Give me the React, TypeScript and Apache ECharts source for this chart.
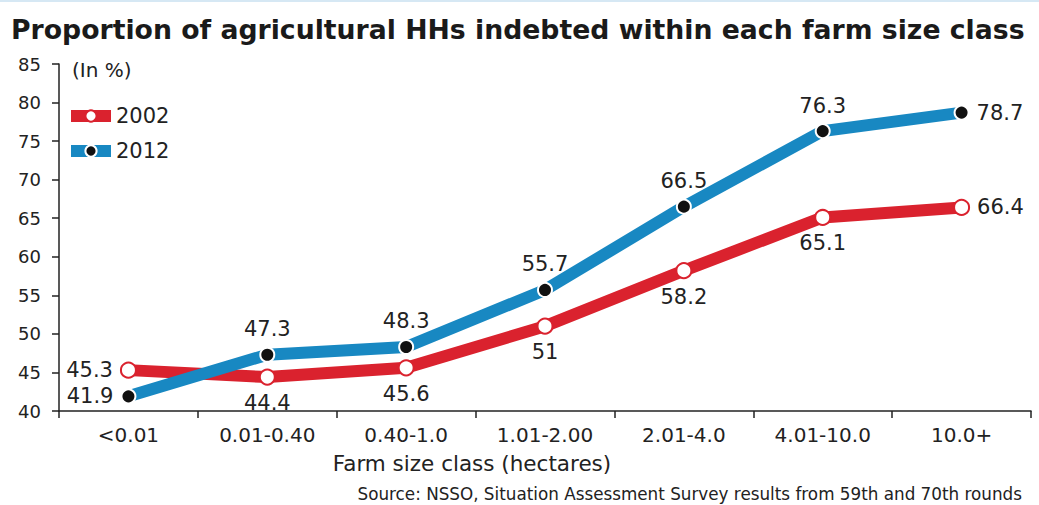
import React, { useEffect, useRef } from "react";
import * as echarts from "echarts";

const categories = ["<0.01", "0.01-0.40", "0.40-1.0", "1.01-2.00", "2.01-4.0", "4.01-10.0", "10.0+"];
const values2002 = [45.3, 44.4, 45.6, 51, 58.2, 65.1, 66.4];
const values2012 = [41.9, 47.3, 48.3, 55.7, 66.5, 76.3, 78.7];
const labelPos2002 = ["left", "bottom", "bottom", "bottom", "bottom", "bottom", "right"];
const labelPos2012 = ["left", "top", "top", "top", "top", "top", "right"];
const titleText = "Proportion of agricultural HHs indebted within each farm size class";
const unitText = "(In %)";
const xAxisName = "Farm size class (hectares)";
const sourceText = "Source: NSSO, Situation Assessment Survey results from 59th and 70th rounds";

const RED = "#da222e";
const BLUE = "#1888c2";
const TEXT = "#222222";
const FONT = "DejaVu Sans";

export default function App() {
  const ref = useRef<HTMLDivElement>(null);
  useEffect(() => {
    if (!ref.current) return;
    const chart = echarts.init(ref.current, null, { renderer: "svg" });
    const mk = (vals: number[], pos: string[]) =>
      vals.map((v, i) => ({ value: v, label: { position: pos[i] } }));
    const legendBase = {
      left: 65,
      padding: 0,
      itemWidth: 40,
      itemHeight: 14,
      lineStyle: { width: 12 },
      textStyle: { fontFamily: FONT, fontSize: 21, color: TEXT, lineHeight: 22 },
    };
    chart.setOption({
      animation: false,
      backgroundColor: "#ffffff",
      title: {
        text: titleText,
        left: 11,
        top: 16,
        padding: 0,
        textStyle: { fontFamily: "DejaVu Sans", fontWeight: "bold", fontSize: 26.7, color: "#1a1a1a" },
      },
      grid: { left: 59, right: 8, top: 64, bottom: 94, containLabel: false },
      legend: [
        { ...legendBase, data: ["2002"], top: 105 },
        { ...legendBase, data: ["2012"], top: 140 },
      ],
      xAxis: {
        type: "category",
        data: categories,
        boundaryGap: true,
        axisLine: { lineStyle: { color: TEXT, width: 1.5 } },
        axisTick: { show: true, length: 7, inside: false, lineStyle: { color: TEXT, width: 1.5 } },
        axisLabel: { fontFamily: FONT, fontSize: 20, color: TEXT, margin: 14, interval: 0 },
        splitLine: { show: false },
      },
      yAxis: {
        type: "value",
        min: 40,
        max: 85,
        interval: 5,
        axisLine: { show: true, lineStyle: { color: TEXT, width: 1.5 } },
        axisTick: { show: true, length: 7, lineStyle: { color: TEXT, width: 1.5 } },
        axisLabel: { fontFamily: FONT, fontSize: 18, color: TEXT, margin: 18 },
        splitLine: { show: false },
      },
      series: [
        {
          name: "2002",
          type: "line",
          data: mk(values2002, labelPos2002),
          lineStyle: { color: RED, width: 12 },
          itemStyle: { color: "#ffffff", borderColor: RED, borderWidth: 2 },
          symbol: "circle",
          symbolSize: 15,
          label: { show: true, fontFamily: FONT, fontSize: 21, color: TEXT, distance: 7 },
          z: 2,
        },
        {
          name: "2012",
          type: "line",
          data: mk(values2012, labelPos2012),
          lineStyle: { color: BLUE, width: 12 },
          itemStyle: { color: "#111111", borderColor: "#ffffff", borderWidth: 2 },
          symbol: "circle",
          symbolSize: 14,
          label: { show: true, fontFamily: FONT, fontSize: 21, color: TEXT, distance: 7 },
          z: 3,
        },
      ],
      graphic: [
        {
          type: "line",
          shape: { x1: 0, y1: 1, x2: 1039, y2: 1 },
          style: { stroke: "#d6e8f4", lineWidth: 2 },
        },
        {
          type: "text",
          left: 72,
          top: 60,
          style: { text: unitText, fontFamily: FONT, fontSize: 20, fill: TEXT },
        },
        {
          type: "text",
          x: 472,
          y: 463,
          style: { text: xAxisName, fontFamily: FONT, fontSize: 21.5, fill: TEXT, align: "center", verticalAlign: "middle" },
        },
        {
          type: "text",
          x: 1022,
          y: 494,
          style: { text: sourceText, fontFamily: FONT, fontSize: 16.8, fill: TEXT, align: "right", verticalAlign: "middle" },
        },
      ],
    });
    return () => chart.dispose();
  }, []);
  return <div ref={ref} style={{ position: "fixed", left: 0, top: 0, width: 1039, height: 505 }} />;
}
